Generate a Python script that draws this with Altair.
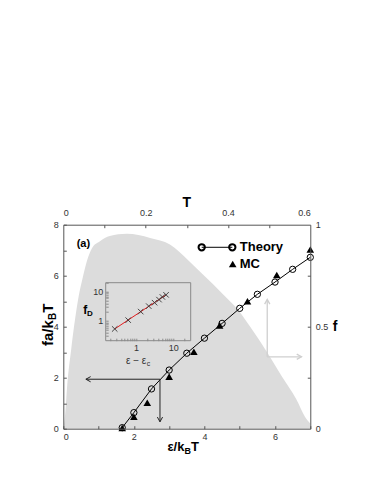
import altair as alt
import pandas as pd

# ---------------- data ----------------
# main panel (bottom axis eps/kBT, left axis fa/kBT)
eps_theory = [1.67, 2.0, 2.5, 3.0, 3.5, 4.0, 4.5, 5.0, 5.5, 6.0, 6.5, 7.0]
fa_theory = [0.04, 0.63, 1.56, 2.30, 2.96, 3.55, 4.13, 4.72, 5.27, 5.75, 6.25, 6.72]
eps_mc = [1.67, 2.0, 2.38, 3.0, 3.70, 4.43, 5.22, 6.05, 7.0]
fa_mc = [0.03, 0.47, 1.02, 2.04, 3.02, 4.05, 5.0, 6.03, 7.03]

# phase region (top axis T, right axis f)
phase_T = [0.0, 0.004, 0.010, 0.019, 0.038, 0.047, 0.057, 0.070, 0.089, 0.113,
           0.154, 0.211, 0.259, 0.304, 0.343, 0.386, 0.425, 0.454, 0.497, 0.531,
           0.566, 0.587, 0.6]
phase_f = [0.0, 0.059, 0.225, 0.386, 0.656, 0.739, 0.820, 0.886, 0.919, 0.945,
           0.955, 0.935, 0.903, 0.825, 0.748, 0.663, 0.581, 0.500, 0.369, 0.256,
           0.144, 0.059, 0.025]

# inset (log-log): f_D vs eps - eps_c
inset_x = [0.27, 0.62, 1.34, 2.2, 3.15, 4.14, 5.1, 6.4]
inset_y = [0.53, 1.06, 2.08, 3.2, 4.2, 5.35, 6.6, 7.8]
fit_x = [0.27, 6.4]
fit_y = [0.53, 7.8]
inset_xlim = [0.155, 29.2]
inset_ylim = [0.21, 20.3]

# arrows (eps, fa units): start -> end
black_x1 = [2.74, 2.74]
black_y1 = [1.94, 1.94]
black_x2 = [0.64, 2.74]
black_y2 = [1.94, 0.27]
black_dir = ["left", "down"]
gray_x1 = [5.78, 5.78]
gray_y1 = [2.82, 2.82]
gray_x2 = [5.78, 6.75]
gray_y2 = [5.07, 2.82]
gray_dir = ["up", "right"]

# axis tick values / labels
eps_labels = [0, 2, 4, 6]
eps_ticks = [0, 1, 2, 3, 4, 5, 6, 7]
fa_labels = [0, 2, 4, 6, 8]
fa_ticks = [0, 1, 2, 3, 4, 5, 6, 7, 8]
T_labels = [0, 0.2, 0.4, 0.6]
T_ticks = [0.1, 0.2, 0.3, 0.4, 0.5]
f_labels = [0, 0.5, 1]
f_ticks = [0.25, 0.5, 0.75]
inset_labels = [1, 10]
inset_xticks = [0.2, 0.3, 0.4, 0.5, 0.6, 0.7, 0.8, 0.9, 1, 2, 3, 4, 5, 6, 7, 8, 9, 10, 20]
inset_yticks = [0.3, 0.4, 0.5, 0.6, 0.7, 0.8, 0.9, 1, 2, 3, 4, 5, 6, 7, 8, 9, 10, 20]

# ---------------- tables ----------------
theory_df = pd.DataFrame({"eps": eps_theory, "fa": fa_theory})
mc_df = pd.DataFrame({"eps": eps_mc, "fa": fa_mc})
phase_df = pd.DataFrame({"T": phase_T, "f": phase_f})
inset_df = pd.DataFrame({"ix": inset_x, "iy": inset_y})
fit_df = pd.DataFrame({"ix": fit_x, "iy": fit_y})
frame_df = pd.DataFrame({"ix": [inset_xlim[0]], "ix2": [inset_xlim[1]],
                         "iy": [inset_ylim[0]], "iy2": [inset_ylim[1]]})
black_df = pd.DataFrame({"eps": black_x1, "fa": black_y1, "eps2": black_x2,
                         "fa2": black_y2, "dir": black_dir})
gray_df = pd.DataFrame({"eps": gray_x1, "fa": gray_y1, "eps2": gray_x2,
                        "fa2": gray_y2, "dir": gray_dir})
black_head = pd.DataFrame({"eps": black_x2, "fa": black_y2, "dir": black_dir})
gray_head = pd.DataFrame({"eps": gray_x2, "fa": gray_y2, "dir": gray_dir})
one = pd.DataFrame({"k": [0]})

W, H = 247, 204
FONT = "Liberation Sans"
FRAME = "#555555"

AX = dict(labelFont=FONT, labelFontSize=9, labelColor="#333333",
          domainColor=FRAME, domainWidth=1, grid=False, title=None, zindex=1)
TK = dict(labels=False, domain=False, tickSize=3, tickColor=FRAME, tickWidth=1,
          grid=False, title=None, zindex=1)

eps_scale = alt.Scale(domain=[0, 7], nice=False, zero=False)
fa_scale = alt.Scale(domain=[0, 8], nice=False, zero=False)
T_scale = alt.Scale(domain=[0, 0.6], nice=False, zero=False)
f_scale = alt.Scale(domain=[0, 1], nice=False, zero=False)
ix_scale = alt.Scale(type="log", domain=inset_xlim, range=[42.4, 127.4], nice=False)
iy_scale = alt.Scale(type="log", domain=inset_ylim, range=[116, 58], nice=False)

X_main = alt.X("eps:Q", scale=eps_scale,
               axis=alt.Axis(orient="bottom", values=eps_labels, ticks=False,
                             labelPadding=4, **AX))
Y_main = alt.Y("fa:Q", scale=fa_scale,
               axis=alt.Axis(orient="left", values=fa_labels, ticks=False,
                             labelPadding=5, **AX))

# ---------------- gray phase region (top / right axes) ----------------
gray_area = alt.Chart(phase_df).mark_area(color="#dcdcdc", interpolate="monotone").encode(
    x=alt.X("T:Q", scale=T_scale,
            axis=alt.Axis(orient="top", values=T_labels, labelExpr="datum.value",
                          ticks=False, labelPadding=7, **AX)),
    y=alt.Y("f:Q", scale=f_scale,
            axis=alt.Axis(orient="right", values=f_labels, labelExpr="datum.value",
                          ticks=False, labelPadding=5, **AX)),
)

ticks_Tf = alt.Chart(phase_df).mark_point(opacity=0).encode(
    x=alt.X("T:Q", scale=T_scale,
            axis=alt.Axis(orient="bottom", offset=-H, values=T_ticks, **TK)),
    y=alt.Y("f:Q", scale=f_scale,
            axis=alt.Axis(orient="left", offset=-W, values=f_ticks, **TK)),
)

ticks_main = alt.Chart(theory_df).mark_point(opacity=0).encode(
    x=alt.X("eps:Q", scale=eps_scale,
            axis=alt.Axis(orient="top", offset=-H, values=eps_ticks, **TK)),
    y=alt.Y("fa:Q", scale=fa_scale,
            axis=alt.Axis(orient="right", offset=-W, values=fa_ticks, **TK)),
)

# ---------------- main data ----------------
shape_scale = alt.Scale(
    domain=["left", "down", "up", "right"],
    range=["M1,-0.55L0,0L1,0.55", "M-0.55,-1L0,0L0.55,-1",
           "M-0.55,1L0,0L0.55,1", "M-1,-0.55L0,0L-1,0.55"],
)

theory_line = alt.Chart(theory_df).mark_line(color="black", strokeWidth=1).encode(
    x=X_main, y=Y_main)
theory_pts = alt.Chart(theory_df).mark_point(
    shape="circle", size=40, filled=False, color="black", strokeWidth=1, opacity=1
).encode(x=X_main, y=Y_main)
mc_pts = alt.Chart(mc_df).mark_point(
    shape="triangle-up", size=58, filled=True, color="black", opacity=1
).encode(x=X_main, y=Y_main)

black_rules = alt.Chart(black_df).mark_rule(color="#222222", strokeWidth=1).encode(
    x=X_main, y=Y_main, x2="eps2:Q", y2="fa2:Q")
black_heads = alt.Chart(black_head).mark_point(
    filled=False, color="#222222", strokeWidth=1, size=90, opacity=1
).encode(x=X_main, y=Y_main, shape=alt.Shape("dir:N", scale=shape_scale, legend=None))
gray_rules = alt.Chart(gray_df).mark_rule(color="#cfcfcf", strokeWidth=1.3).encode(
    x=X_main, y=Y_main, x2="eps2:Q", y2="fa2:Q")
gray_heads = alt.Chart(gray_head).mark_point(
    filled=False, color="#cfcfcf", strokeWidth=1.3, size=90, opacity=1
).encode(x=X_main, y=Y_main, shape=alt.Shape("dir:N", scale=shape_scale, legend=None))


def txt(s, x, y, size, weight="bold", align="left", angle=0, baseline="alphabetic",
        color="black"):
    return alt.Chart(one).mark_text(
        text=s, font=FONT, fontSize=size, fontWeight=weight, align=align,
        baseline=baseline, angle=angle, color=color
    ).encode(x=alt.value(x), y=alt.value(y))


legend_line = alt.Chart(one).mark_rule(color="black", strokeWidth=1).encode(
    x=alt.value(138.4), x2=alt.value(169), y=alt.value(22.6))
legend_c1 = alt.Chart(one).mark_point(shape="circle", size=40, filled=False,
                                      color="black", opacity=1).encode(
    x=alt.value(138.4), y=alt.value(22.6))
legend_c2 = alt.Chart(one).mark_point(shape="circle", size=40, filled=False,
                                      color="black", opacity=1).encode(
    x=alt.value(169), y=alt.value(22.6))
legend_tri = alt.Chart(one).mark_point(shape="triangle-up", size=58, filled=True,
                                       color="black", opacity=1).encode(
    x=alt.value(169.4), y=alt.value(39.3))

texts = [
    txt("T", 123.4, -21.7, 14, align="center", baseline="middle"),
    txt("f", 271.7, 102.3, 14, align="center", baseline="middle"),
    txt("ε/k", 121.1, 226.7, 13, align="right"),
    txt("B", 121.3, 229.7, 9),
    txt("T", 127.8, 226.7, 13),
    txt("fa/k", -10.6, 95.5, 15, align="right", angle=270),
    txt("B", -7.0, 95.3, 10, angle=270),
    txt("T", -10.6, 88.1, 15, angle=270),
    txt("(a)", 13.4, 22.3, 11),
    txt("Theory", 176.5, 22.6, 13, baseline="middle"),
    txt("MC", 176.5, 39.3, 13, baseline="middle"),
    txt("f", 22.0, 89.3, 12, align="center"),
    txt("D", 23.6, 91.5, 8),
    txt("ε − ε", 83.0, 139.0, 10, weight="normal", align="right", color="#333333"),
    txt("c", 83.5, 141.2, 7, weight="normal", color="#333333"),
]

main = alt.layer(theory_line, theory_pts, mc_pts, black_rules, black_heads,
                 gray_rules, gray_heads, legend_line, legend_c1, legend_c2,
                 legend_tri, *texts)

# ---------------- inset ----------------
IX = alt.X("ix:Q", scale=ix_scale,
           axis=alt.Axis(orient="bottom", offset=-88, values=inset_labels,
                         labelExpr="datum.value", ticks=False, domain=False,
                         labelPadding=3, labelFont=FONT, labelFontSize=9,
                         labelColor="#333333", grid=False, title=None, zindex=1))
IY = alt.Y("iy:Q", scale=iy_scale,
           axis=alt.Axis(orient="left", offset=-42.4, values=inset_labels,
                         labelExpr="datum.value", ticks=False, domain=False,
                         labelPadding=3, labelFont=FONT, labelFontSize=9,
                         labelColor="#333333", grid=False, title=None, zindex=1))

inset_frame = alt.Chart(frame_df).mark_rect(
    fillOpacity=0, stroke="#8a8a8a", strokeWidth=1
).encode(x=IX, x2="ix2:Q", y=IY, y2="iy2:Q")
inset_fit = alt.Chart(fit_df).mark_line(color="#e41a1c", strokeWidth=1).encode(x=IX, y=IY)
inset_pts = alt.Chart(inset_df).mark_point(
    shape="M-1,-1L1,1M-1,1L1,-1", size=30, filled=False, color="#333333",
    strokeWidth=0.9, opacity=1
).encode(x=IX, y=IY)
inset = alt.layer(inset_frame, inset_fit, inset_pts)

inset_ticks = alt.Chart(inset_df).mark_point(opacity=0).encode(
    x=alt.X("ix:Q", scale=ix_scale,
            axis=alt.Axis(orient="top", offset=-116, values=inset_xticks,
                          labels=False, domain=False, tickSize=2.5,
                          tickColor="#8a8a8a", grid=False, title=None, zindex=1)),
    y=alt.Y("iy:Q", scale=iy_scale,
            axis=alt.Axis(orient="right", offset=-(W - 42.4), values=inset_yticks,
                          labels=False, domain=False, tickSize=2.5,
                          tickColor="#8a8a8a", grid=False, title=None, zindex=1)),
)

chart = alt.layer(
    gray_area, ticks_Tf, ticks_main, inset, inset_ticks, main
).resolve_scale(
    x="independent", y="independent", shape="independent"
).properties(
    width=W, height=H,
    autosize=alt.AutoSizeParams(type="none"),
    padding={"left": 55.3, "top": 216.7, "right": 46, "bottom": 40},
).configure_view(stroke=None)

chart.save("out.html", embed_options={"renderer": "svg", "actions": False})
